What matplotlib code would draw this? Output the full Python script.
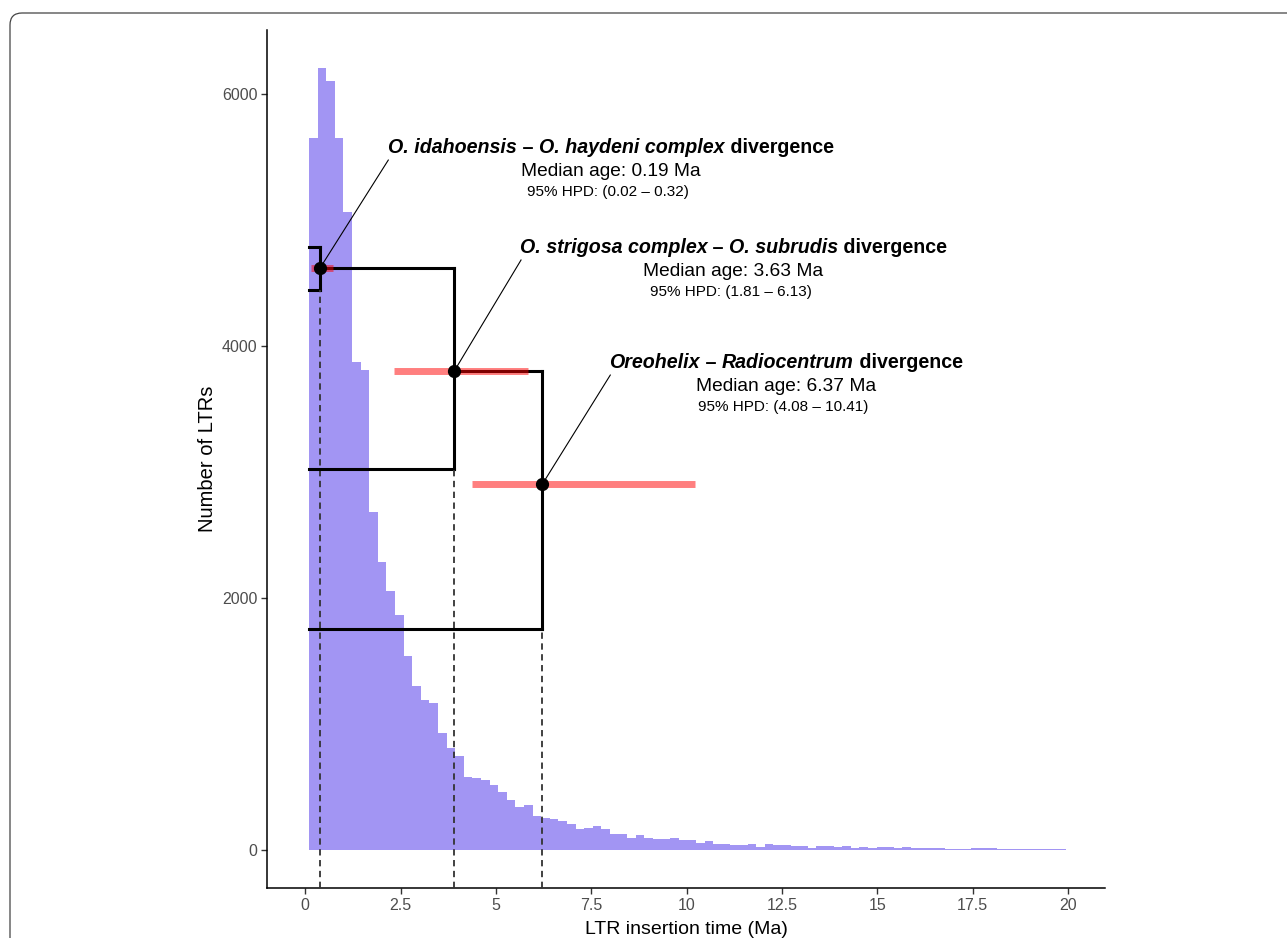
import matplotlib
matplotlib.use('Agg')
import matplotlib.pyplot as plt
from matplotlib.patches import FancyBboxPatch
from matplotlib.transforms import IdentityTransform, offset_copy

plt.rcParams['font.family'] = ['Liberation Sans', 'DejaVu Sans']

# LTR insertion time histogram (equal-width bins starting at bin_start)
bin_start = 0.10
bin_width = 0.2255
ltr_counts = [5648, 6210, 6105, 5648, 5066, 3871, 3810, 2685, 2283, 2058,
              1865, 1540, 1302, 1190, 1164, 931, 807, 749, 582, 575,
              556, 521, 460, 400, 344, 362, 268, 258, 249, 235,
              204, 172, 175, 188, 167, 132, 132, 98, 119, 100,
              85, 90, 98, 79, 82, 58, 72, 48, 48, 43,
              43, 52, 27, 48, 43, 45, 32, 32, 21, 35,
              37, 27, 32, 14, 24, 14, 24, 24, 16, 27,
              19, 19, 16, 16, 11, 9, 9, 21, 21, 14,
              9, 7, 7, 7, 11, 11, 9, 9]

# dated tree overlaid on the histogram
tip_x = 0.105
node_x = [0.39, 3.91, 6.22]
node_y = [4619, 3802, 2905]
node_top = [4786, 4619, 3802]
node_bottom = [4444, 3024, 1754]
top_child_x = [tip_x, 0.39, 3.91]
hpd_lo = [0.16, 2.33, 4.38]
hpd_hi = [0.73, 5.85, 10.22]

# annotation text
clade_names = [
    [("O. idahoensis", 'italic'), (" \u2013 ", 'normal'), ("O. haydeni complex", 'italic'), (" divergence", 'normal')],
    [("O. strigosa complex", 'italic'), (" \u2013 ", 'normal'), ("O. subrudis", 'italic'), (" divergence", 'normal')],
    [("Oreohelix", 'italic'), (" \u2013 ", 'normal'), ("Radiocentrum", 'italic'), (" divergence", 'normal')],
]
median_age = [0.19, 3.63, 6.37]
hpd_text = [(0.02, 0.32), (1.81, 6.13), (4.08, 10.41)]
label_x = [8.02, 11.23, 12.61]
label_y = [5579, 4786, 3873]
leader_x = [2.18, 5.66, 8.0]
leader_y = [5476, 4683, 3770]

xticks = [0, 2.5, 5, 7.5, 10, 12.5, 15, 17.5, 20]
yticks = [0, 2000, 4000, 6000]

fig = plt.figure(figsize=(12.87, 9.38), dpi=100)
ax = fig.add_axes([267 / 1287, 50 / 938, 838 / 1287, 858 / 938])
ax.set_xlim(-1.0, 20.97)
ax.set_ylim(-300, 6508)

# histogram
lefts = [bin_start + i * bin_width for i in range(len(ltr_counts))]
ax.bar(lefts, ltr_counts, width=bin_width, align='edge', color='#7B68EE',
       alpha=0.7, linewidth=0, zorder=1)

# tree
ylo = ax.get_ylim()[0]
for i in range(3):
    ax.plot([node_x[i], node_x[i]], [node_bottom[i], node_top[i]], color='black', lw=2.2, zorder=3,
            solid_capstyle='projecting')
    ax.plot([top_child_x[i], node_x[i]], [node_top[i], node_top[i]], color='black', lw=2.2, zorder=3)
    ax.plot([tip_x, node_x[i]], [node_bottom[i], node_bottom[i]], color='black', lw=2.2, zorder=3)
    ax.plot([node_x[i], node_x[i]], [ylo, node_bottom[i]], color='#333333', lw=1.3,
            linestyle=(0, (3.5, 2.5)), zorder=3)
    ax.plot([hpd_lo[i], hpd_hi[i]], [node_y[i], node_y[i]], color='red', alpha=0.5, lw=5,
            solid_capstyle='butt', zorder=4)
    ax.plot([node_x[i], leader_x[i]], [node_y[i], leader_y[i]], color='black', lw=0.8, zorder=5)
ax.plot(node_x, node_y, 'o', color='black', markersize=8.5, zorder=6)

# labels
renderer = fig.canvas.get_renderer()


def centered_rich(x, y, pieces, size):
    texts = []
    widths = []
    for s, st in pieces:
        t = ax.text(x, y, s, fontsize=size, fontweight='bold', style=st,
                    ha='left', va='center', zorder=7)
        widths.append(t.get_window_extent(renderer).width)
        texts.append(t)
    pos = -sum(widths) / 2
    for t, w in zip(texts, widths):
        t.set_transform(offset_copy(ax.transData, fig, x=pos, y=0, units='dots'))
        pos += w


for i in range(3):
    centered_rich(label_x[i], label_y[i], clade_names[i], 14.1)
    ax.text(label_x[i], label_y[i], 'Median age: %.2f Ma' % median_age[i], fontsize=13.8,
            ha='center', va='center',
            transform=offset_copy(ax.transData, fig, x=0, y=-24, units='dots'))
    ax.text(label_x[i], label_y[i], '95%% HPD: (%.2f \u2013 %.2f)' % hpd_text[i], fontsize=11,
            ha='center', va='center',
            transform=offset_copy(ax.transData, fig, x=-3, y=-45, units='dots'))

# axes styling (classic look)
for side in ['top', 'right']:
    ax.spines[side].set_visible(False)
for side in ['left', 'bottom']:
    ax.spines[side].set_linewidth(1.1)
ax.set_xticks(xticks)
ax.set_xticklabels(['%g' % v for v in xticks])
ax.set_yticks(yticks)
ax.tick_params(length=4, width=1.0, color='#333333', labelcolor='#4D4D4D', labelsize=11.5, pad=3)
ax.set_xlabel('LTR insertion time (Ma)', fontsize=14, labelpad=6)
ax.set_ylabel('Number of LTRs', fontsize=14.5, labelpad=3)

# rounded page frame
frame = FancyBboxPatch((10, -40), 1400, 938 - 13 + 40, boxstyle='round,pad=0,rounding_size=12',
                       transform=IdentityTransform(), facecolor='none', edgecolor='#444444',
                       linewidth=0.9)
fig.add_artist(frame)

fig.savefig('out.png', dpi=100)
